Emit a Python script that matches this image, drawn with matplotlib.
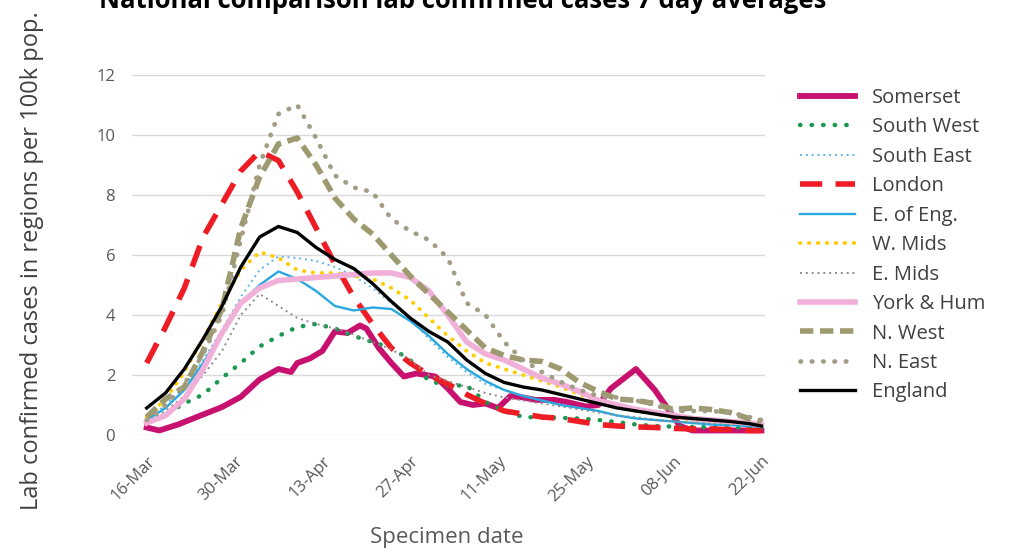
import numpy as np
import matplotlib
matplotlib.use('Agg')
import matplotlib.pyplot as plt
import matplotlib.dates as mdates

plt.rcParams['font.family'] = ['Open Sans', 'DejaVu Sans']

# days after 16-Mar-2020 (7 day averages, read every 3 days)
dias = [0, 3, 6, 9, 12, 15, 18, 21, 24, 27, 30, 33, 36, 39, 42, 45, 48, 51, 54,
        57, 60, 63, 66, 69, 72, 75, 78, 81, 84, 87, 90, 93, 96, 98]

south_west = [0.45, 0.7, 1.05, 1.35, 1.9, 2.4, 2.95, 3.3, 3.6, 3.7, 3.55, 3.3, 3.1, 2.9,
              2.5, 1.8, 1.65, 1.65, 1.1, 0.8, 0.6, 0.58, 0.57, 0.55, 0.5, 0.43, 0.35, 0.3,
              0.28, 0.27, 0.26, 0.25, 0.25, 0.25]
south_east = [0.5, 1.0, 1.6, 2.5, 3.5, 4.6, 5.5, 5.95, 5.9, 5.8, 5.6, 5.3, 4.9, 4.4, 3.9,
              3.2, 2.6, 2.1, 1.7, 1.5, 1.3, 1.15, 1.0, 0.9, 0.8, 0.65, 0.55, 0.5, 0.45,
              0.4, 0.37, 0.35, 0.32, 0.3]
london = [2.4, 3.6, 4.9, 6.6, 7.7, 8.8, 9.45, 9.15, 8.1, 6.9, 5.7, 4.6, 3.7, 2.9, 2.4,
          2.0, 1.7, 1.35, 1.05, 0.8, 0.7, 0.6, 0.55, 0.45, 0.35, 0.3, 0.27, 0.25, 0.22,
          0.2, 0.2, 0.18, 0.15, 0.15]
east_eng = [0.5, 0.9, 1.5, 2.4, 3.4, 4.4, 5.0, 5.45, 5.2, 4.8, 4.3, 4.15, 4.25, 4.2, 3.8,
            3.3, 2.7, 2.2, 1.8, 1.5, 1.3, 1.15, 1.0, 0.9, 0.8, 0.65, 0.55, 0.5, 0.45,
            0.4, 0.35, 0.33, 0.3, 0.28]
w_mids = [0.6, 1.2, 2.1, 3.2, 4.4, 5.5, 6.1, 5.9, 5.5, 5.4, 5.4, 5.3, 5.2, 4.9, 4.5, 3.9,
          3.3, 2.8, 2.4, 2.2, 2.0, 1.8, 1.6, 1.35, 1.15, 0.95, 0.8, 0.7, 0.6, 0.5, 0.45,
          0.4, 0.37, 0.35]
e_mids = [0.45, 0.8, 1.3, 2.0, 2.8, 4.0, 4.7, 4.3, 3.9, 3.7, 3.55, 3.35, 3.1, 2.85, 2.5,
          2.0, 1.8, 1.6, 1.4, 1.25, 1.15, 1.05, 0.95, 0.85, 0.75, 0.65, 0.6, 0.5, 0.45,
          0.42, 0.4, 0.38, 0.35, 0.33]
york_hum = [0.4, 0.65, 1.2, 2.2, 3.4, 4.4, 4.9, 5.15, 5.2, 5.25, 5.3, 5.35, 5.4, 5.4,
            5.25, 4.8, 4.0, 3.1, 2.7, 2.5, 2.2, 1.9, 1.7, 1.45, 1.15, 1.0, 0.85, 0.75,
            0.65, 0.55, 0.5, 0.45, 0.4, 0.35]
n_west = [0.6, 1.2, 1.6, 2.8, 4.2, 6.9, 8.6, 9.7, 9.9, 9.0, 7.9, 7.2, 6.7, 6.0, 5.3, 4.7,
          4.1, 3.5, 2.9, 2.65, 2.5, 2.45, 2.2, 1.75, 1.45, 1.2, 1.15, 1.05, 0.85, 0.9,
          0.85, 0.75, 0.55, 0.45]
n_east = [0.5, 1.0, 1.7, 2.7, 4.0, 6.5, 9.0, 10.7, 11.0, 9.9, 8.65, 8.25, 8.1, 7.2, 6.8,
          6.5, 5.9, 4.4, 4.0, 3.1, 2.5, 2.1, 1.77, 1.5, 1.3, 1.25, 1.15, 1.0, 0.8, 0.8,
          0.8, 0.75, 0.6, 0.5]
england = [0.9, 1.4, 2.2, 3.2, 4.3, 5.6, 6.6, 6.95, 6.75, 6.25, 5.85, 5.55, 5.05, 4.45,
           3.9, 3.45, 3.1, 2.5, 2.05, 1.75, 1.6, 1.5, 1.35, 1.2, 1.05, 0.9, 0.8, 0.7, 0.6,
           0.55, 0.5, 0.45, 0.38, 0.3]

# Somerset is jumpier, read at its own days
dias_som = [0, 2, 5, 8, 12, 15, 18, 21, 23, 24, 26, 28, 30, 32, 34, 35, 37, 39, 41, 43,
            46, 48, 50, 52, 54, 56, 58, 60, 62, 65, 67, 70, 72, 74, 78, 81, 85, 87, 92, 98]
somerset = [0.25, 0.15, 0.35, 0.6, 0.93, 1.27, 1.85, 2.2, 2.1, 2.4, 2.55, 2.8, 3.45, 3.4,
            3.65, 3.55, 2.9, 2.4, 1.95, 2.05, 1.95, 1.55, 1.1, 1.0, 1.05, 0.9, 1.3, 1.25,
            1.17, 1.17, 1.1, 0.95, 1.0, 1.55, 2.2, 1.5, 0.3, 0.15, 0.15, 0.15]

inicio = np.datetime64('2020-03-16')
fechas = inicio + np.array(dias).astype('timedelta64[D]')
fechas_som = inicio + np.array(dias_som).astype('timedelta64[D]')

series = [
    ('Somerset', fechas_som, somerset, dict(color='#c8116f', lw=4.2, ls='-')),
    ('South West', fechas, south_west, dict(color='#1a9850', lw=3.2, ls=(0, (0.1, 2.5)), dash_capstyle='round')),
    ('South East', fechas, south_east, dict(color='#5eb4e4', lw=1.4, ls=(0, (1, 2)))),
    ('London', fechas, london, dict(color='#ee1c25', lw=4.0, ls=(0, (4, 2.4)))),
    ('E. of Eng.', fechas, east_eng, dict(color='#29a8e0', lw=1.7, ls='-')),
    ('W. Mids', fechas, w_mids, dict(color='#ffcc00', lw=2.8, ls=(0, (0.1, 2.2)), dash_capstyle='round')),
    ('E. Mids', fechas, e_mids, dict(color='#8c8c8c', lw=1.4, ls=(0, (1, 2)))),
    ('York & Hum', fechas, york_hum, dict(color='#f0b0d8', lw=4.0, ls='-')),
    ('N. West', fechas, n_west, dict(color='#9d9a70', lw=4.0, ls=(0, (2.4, 1.2)))),
    ('N. East', fechas, n_east, dict(color='#a39d86', lw=3.4, ls=(0, (0.1, 2.3)), dash_capstyle='round')),
    ('England', fechas, england, dict(color='#000000', lw=2.4, ls='-')),
]

fig = plt.figure(figsize=(10.14, 5.53), dpi=100)
ax = fig.add_axes([0.130, 0.2134, 0.624, 0.6510])

for nombre, x, y, estilo in series:
    ax.plot(x, y, label=nombre, **estilo)

ax.set_ylim(0, 12)
ax.set_yticks(range(0, 13, 2))
ax.set_xlim(inicio - np.timedelta64(57, 'h'), inicio + np.timedelta64(2364, 'h'))
ticks = inicio + np.arange(0, 99, 14).astype('timedelta64[D]')
ax.set_xticks(ticks)
ax.xaxis.set_major_formatter(mdates.DateFormatter('%d-%b'))
ax.grid(axis='y', color='#d9d9d9', lw=1)
ax.set_axisbelow(True)
for s in ax.spines.values():
    s.set_visible(False)
ax.tick_params(axis='both', length=0, colors='#595959')
ax.tick_params(axis='y', pad=12, labelsize=12)
ax.tick_params(axis='x', pad=13, labelsize=12)
for lab in ax.get_xticklabels():
    lab.set_rotation(45)
    lab.set_ha('right')
    lab.set_rotation_mode('anchor')

fig.text(0.441, 1 - 537 / 553, 'Specimen date', fontsize=16, color='#595959',
         ha='center', va='center')
fig.text(0.032, 1 - 261 / 553, 'Lab confirmed cases in regions per 100k pop.', rotation=90,
         fontsize=17, color='#404040', ha='center', va='center')
fig.text(0.456, 1 - 8 / 553, 'National comparison lab confirmed cases 7 day averages',
         fontsize=18.5, fontweight='bold', color='#000000', ha='center', va='baseline')

fig.legend(loc='upper left', bbox_to_anchor=(0.771, 0.874), frameon=False,
           fontsize=14.5, handlelength=2.75, handletextpad=0.85, labelspacing=0.47,
           labelcolor='#404040')

fig.savefig('out.png', dpi=100)
